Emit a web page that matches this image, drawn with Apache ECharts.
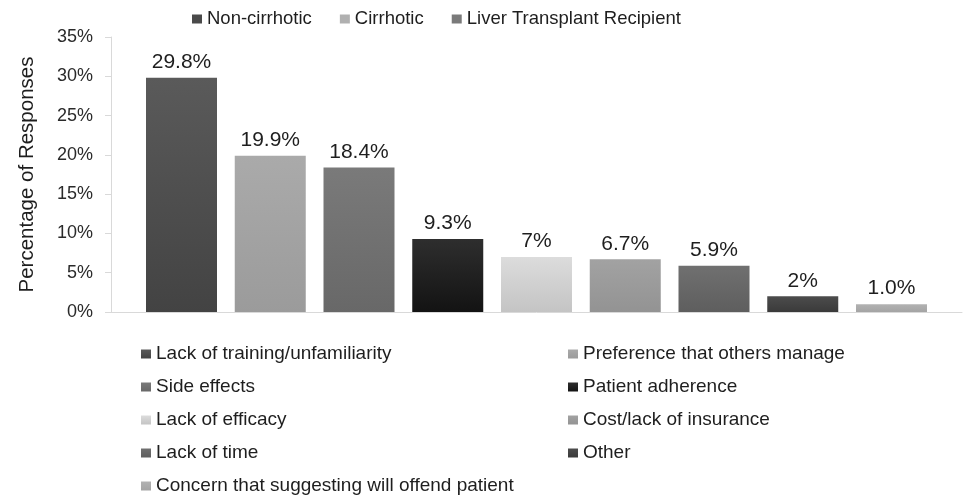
<!DOCTYPE html>
<html>
<head>
<meta charset="utf-8">
<script src="https://cdn.jsdelivr.net/npm/echarts@6/dist/echarts.min.js"></script>
<style>
  html, body { margin: 0; padding: 0; background: #ffffff; }
  #chart { width: 967px; height: 497px; }
</style>
</head>
<body>
<div id="chart"></div>
<script>
// Reasons given, one bar each, in legend order
const reasons = [
  'Lack of training/unfamiliarity',
  'Preference that others manage',
  'Side effects',
  'Patient adherence',
  'Lack of efficacy',
  'Cost/lack of insurance',
  'Lack of time',
  'Other',
  'Concern that suggesting will offend patient'
];
// Percentage of responses per reason
const percentages = [29.8, 19.9, 18.4, 9.3, 7, 6.7, 5.9, 2, 1.0];
// Decimal places shown in each bar's label
const labelDecimals = [1, 1, 1, 1, 0, 1, 1, 0, 1];
// Patient groups listed in the header legend
const groups = ['Non-cirrhotic', 'Cirrhotic', 'Liver Transplant Recipient'];
// Y axis range
const yMax = 35;
const yStep = 5;

// Bar shading: [top, bottom] of each vertical gradient
const barShades = [
  ['#5a5a5a', '#434343'],
  ['#aaaaaa', '#9b9b9b'],
  ['#7a7a7a', '#686868'],
  ['#2e2e2e', '#131313'],
  ['#dcdcdc', '#c4c4c4'],
  ['#a2a2a2', '#939393'],
  ['#707070', '#5e5e5e'],
  ['#4c4c4c', '#3a3a3a'],
  ['#b2b2b2', '#a4a4a4']
];
const groupColors = ['#4a4a4a', '#b0b0b0', '#7a7a7a'];

const FONT = 'Liberation Sans, Arial, sans-serif';

const barSeries = reasons.map((name, i) => ({
  name: name,
  type: 'bar',
  barWidth: 71,
  barGap: '25%',
  data: [percentages[i]],
  itemStyle: {
    color: new echarts.graphic.LinearGradient(0, 0, 0, 1, [
      { offset: 0, color: barShades[i][0] },
      { offset: 1, color: barShades[i][1] }
    ])
  },
  label: {
    show: true,
    position: 'top',
    distance: 5,
    color: '#1e1e1e',
    fontFamily: FONT,
    fontSize: 21,
    formatter: (p) => p.value.toFixed(labelDecimals[i]) + '%'
  }
}));

// Header legend entries (no marks of their own)
const groupSeries = groups.map((name, i) => ({
  name: name,
  type: 'line',
  data: [],
  itemStyle: { color: groupColors[i] }
}));

const headerText = { color: '#1e1e1e', fontFamily: FONT, fontSize: 18.5, lineHeight: 20 };
const keyText = { color: '#1e1e1e', fontFamily: FONT, fontSize: 19, lineHeight: 20 };

const option = {
  animation: false,
  backgroundColor: '#ffffff',
  grid: { left: 111, right: 5, top: 37, bottom: 185 },
  legend: [
    {
      data: groups,
      left: 192,
      top: 9,
      padding: 0,
      icon: 'rect',
      itemWidth: 10,
      itemHeight: 9,
      itemGap: 28,
      textStyle: headerText
    },
    {
      data: [reasons[0], reasons[2], reasons[4], reasons[6], reasons[8]],
      orient: 'vertical',
      left: 141,
      top: 344,
      padding: 0,
      icon: 'rect',
      itemWidth: 10,
      itemHeight: 9,
      itemGap: 13,
      textStyle: keyText
    },
    {
      data: [reasons[1], reasons[3], reasons[5], reasons[7]],
      orient: 'vertical',
      left: 568,
      top: 344,
      padding: 0,
      icon: 'rect',
      itemWidth: 10,
      itemHeight: 9,
      itemGap: 13,
      textStyle: keyText
    }
  ],
  xAxis: {
    type: 'category',
    data: [''],
    axisLine: { show: true, lineStyle: { color: '#d9d9d9', width: 1 } },
    axisTick: { show: false },
    axisLabel: { show: false }
  },
  yAxis: {
    type: 'value',
    min: 0,
    max: yMax,
    interval: yStep,
    name: 'Percentage of Responses',
    nameLocation: 'middle',
    nameRotate: 90,
    nameGap: 73,
    nameTextStyle: { color: '#1e1e1e', fontFamily: FONT, fontSize: 20.5 },
    axisLine: { show: true, lineStyle: { color: '#d9d9d9', width: 1 } },
    axisTick: { show: true, length: 6, lineStyle: { color: '#d9d9d9' } },
    splitLine: { show: false },
    axisLabel: {
      color: '#2a2a2a',
      fontFamily: FONT,
      fontSize: 18,
      margin: 18,
      formatter: '{value}%'
    }
  },
  series: groupSeries.concat(barSeries)
};

const chart = echarts.init(document.getElementById('chart'), null, { renderer: 'canvas' });
chart.setOption(option);
</script>
</body>
</html>
